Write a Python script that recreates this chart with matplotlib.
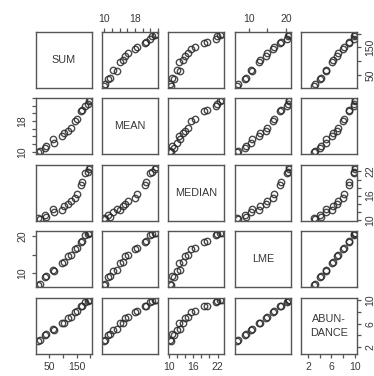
import numpy as np
import matplotlib
matplotlib.use('Agg')
import matplotlib.pyplot as plt

# variables of the scatterplot matrix
names = ['SUM', 'MEAN', 'MEDIAN', 'LME', 'ABUN-\nDANCE']

SUM = [10, 16, 33, 39, 69, 63, 98, 104, 120, 131, 145, 151, 165, 169, 182, 190, 196, 200]
MEAN = [10.0, 10.3, 10.9, 11.4, 12.3, 13.3, 14.2, 15.0, 15.5, 16.1, 17.9, 18.5,
        20.5, 20.9, 21.8, 22.5, 23.1, 23.4]
MEDIAN = [10.4, 10.1, 11.1, 10.8, 11.9, 12.8, 12.5, 13.5, 13.9, 14.7, 15.5, 16.4,
          18.6, 19.4, 21.5, 21.9, 22.6, 23.0]
LME = [6.8, 7.1, 8.8, 9.1, 10.6, 10.9, 12.6, 13.0, 14.6, 15.0, 16.4, 16.8,
       18.5, 18.8, 20.2, 20.5, 20.8, 20.9]
ABUNDANCE = [3.1, 3.2, 4.1, 4.2, 5.0, 5.1, 6.1, 6.2, 7.0, 7.1, 8.0, 8.1,
             9.0, 9.1, 9.8, 9.9, 10.0, 10.1]

data = [SUM, MEAN, MEDIAN, LME, ABUNDANCE]

# axis ranges, ticks and tick labels per variable
lims = [(2, 206), (9.4, 24.0), (9.7, 23.6), (6.2, 21.4), (0.8, 10.4)]
ticks = [[50, 100, 150, 200], [10, 12, 14, 16, 18, 20, 22, 24],
         [10, 12, 14, 16, 18, 20, 22], [10, 15, 20], [2, 4, 6, 8, 10]]
tlabels = [['50', '', '150', ''], ['10', '', '', '', '18', '', '', ''],
           ['10', '', '', '16', '', '', '22'], ['10', '', '20'],
           ['2', '', '6', '', '10']]

W, H = 374, 376
left = [36, 102, 168, 235, 301]
top = [32, 98, 165, 231, 298]
pw, ph = 56, 56

edge = '#555555'
txt = '#383838'
plt.rcParams['font.family'] = ['Liberation Sans', 'DejaVu Sans']

fig = plt.figure(figsize=(W / 100, H / 100), dpi=100)

n = len(data)
for i in range(n):        # row  -> y variable
    for j in range(n):    # col  -> x variable
        ax = fig.add_axes([left[j] / W, 1 - (top[i] + ph) / H, pw / W, ph / H])
        for s in ax.spines.values():
            s.set_color(edge)
            s.set_linewidth(1.0)
        ax.set_xlim(lims[j])
        ax.set_ylim(lims[i])
        ax.tick_params(length=3, width=0.9, color=edge, labelcolor=txt,
                       labelsize=7.5, pad=3, direction='out')
        if i == j:
            ax.text(0.5, 0.5, names[i], transform=ax.transAxes, ha='center',
                    va='center', fontsize=7.8, color=txt, linespacing=1.4)
        else:
            ax.plot(data[j], data[i], 'o', ms=4.6, mfc='none', mec='#2a2a2a',
                    mew=1.0, alpha=0.85)

        # x axis: top for even columns, bottom for odd ones
        if i == 0 and j % 2 == 1:
            ax.xaxis.tick_top()
            ax.set_xticks(ticks[j])
            ax.set_xticklabels(tlabels[j])
        elif i == n - 1 and j % 2 == 0:
            ax.set_xticks(ticks[j])
            ax.set_xticklabels(tlabels[j])
        else:
            ax.set_xticks([])
        # y axis: left for even rows, right for odd ones
        if j == 0 and i % 2 == 1:
            ax.set_yticks(ticks[i])
            ax.set_yticklabels(tlabels[i], rotation=90, va='center')
        elif j == n - 1 and i % 2 == 0:
            ax.yaxis.tick_right()
            ax.set_yticks(ticks[i])
            ax.set_yticklabels(tlabels[i], rotation=90, va='center')
        else:
            ax.set_yticks([])

fig.savefig('out.png', dpi=100)
